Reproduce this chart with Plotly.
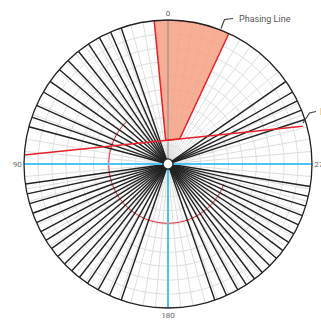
import math
import plotly.graph_objects as go

# Bearings (degrees, counter-clockwise from north) of the observed rays
ray_angles = [
    19, 23.5, 28.5, 33.5, 38.5, 44, 49, 55, 60, 66, 71, 75,
    98, 102, 106, 110, 114, 118, 122, 126, 130, 134, 138, 142, 146, 151, 156, 161,
    199, 204, 209, 213, 217, 221, 225, 229, 233, 237, 241, 245, 249, 253, 257, 261,
    288, 292, 296, 300, 305,
]

# Phasing sector bounds (degrees)
sector_left = 5.5
sector_right = 335.0

# Red straight line end points (theta, r)
line_theta = [86.4, 285.7]
line_r = [1.0, 0.97]

# Red reference arc
arc_radius = 0.39
arc_start, arc_end = 45, 250

tick_labels = {0: "0", 90: "90", 180: "180", 270: "270"}

HOLE = 0.035
W, H = 321, 322
ML, MR, MT, MB = 24, 9, 20, 14
PLOT = 288


def to_xy(theta, r):
    # screen-space position (unit radius) including the centre hole
    rho = HOLE + (1 - HOLE) * r
    t = math.radians(theta)
    return -rho * math.sin(t), rho * math.cos(t)


def ray_hit(theta):
    # radial value where the ray at theta meets the straight red line
    (x1, y1), (x2, y2) = to_xy(line_theta[0], line_r[0]), to_xy(line_theta[1], line_r[1])
    dx, dy = -math.sin(math.radians(theta)), math.cos(math.radians(theta))
    ex, ey = x2 - x1, y2 - y1
    det = dx * (-ey) - dy * (-ex)
    rho = (x1 * (-ey) - y1 * (-ex)) / det
    return (rho - HOLE) / (1 - HOLE)


fig = go.Figure()

# phasing sector
sec_theta, sec_r = [], []
span = (sector_left - sector_right) % 360
steps = 40
for i in range(steps + 1):
    sec_theta.append(sector_left - span * i / steps)
    sec_r.append(1.0)
sec_theta += [sector_right, sector_left, sector_left]
sec_r += [ray_hit(sector_right), ray_hit(sector_left), 1.0]
fig.add_trace(go.Scatterpolar(
    theta=sec_theta, r=sec_r, mode="lines", fill="toself",
    fillcolor="rgba(245,160,130,0.85)", line=dict(color="#e8202a", width=1.5),
    hoverinfo="skip"))

# red reference arc
arc_t = [arc_start + (arc_end - arc_start) * i / 80 for i in range(81)]
fig.add_trace(go.Scatterpolar(
    theta=arc_t, r=[arc_radius] * len(arc_t), mode="lines",
    line=dict(color="#e8202a", width=1), hoverinfo="skip"))

# north reference line
fig.add_trace(go.Scatterpolar(
    theta=[0, 0], r=[0, 1], mode="lines",
    line=dict(color="#8a8a8a", width=1), hoverinfo="skip"))

# observed rays
rt, rr = [], []
for a in ray_angles:
    rt += [a, a, None]
    rr += [0, 1, None]
fig.add_trace(go.Scatterpolar(
    theta=rt, r=rr, mode="lines", connectgaps=False,
    line=dict(color="#222222", width=1.4), hoverinfo="skip"))

# cyan axes
fig.add_trace(go.Scatterpolar(
    theta=[90, 90, None, 270, 270, None, 180, 180],
    r=[1, 0, None, 0, 1, None, 0, 1], mode="lines", connectgaps=False,
    line=dict(color="#4cc3f5", width=2), hoverinfo="skip"))

# red straight line
fig.add_trace(go.Scatterpolar(
    theta=line_theta, r=line_r, mode="lines",
    line=dict(color="#e8202a", width=1.5), hoverinfo="skip"))


def px(x):
    return (x - ML) / PLOT


def py(y):
    return (H - MB - y) / PLOT


shapes = [
    dict(type="path", xref="paper", yref="paper",
         path=f"M {px(221)} {py(28.5)} L {px(224.5)} {py(19.5)} L {px(233)} {py(18.5)}",
         line=dict(color="#444444", width=1.2)),
    dict(type="path", xref="paper", yref="paper",
         path=f"M {px(303)} {py(123)} L {px(309.5)} {py(113)} L {px(316)} {py(111.5)}",
         line=dict(color="#444444", width=1.2)),
]

annotations = [
    dict(text="Phasing Line", x=px(237), y=py(18.5), xref="paper", yref="paper",
         xanchor="left", yanchor="middle", showarrow=False,
         font=dict(family="Roboto", size=9, color="#555555")),
    dict(text="Impact Line", x=px(317.5), y=py(111.5), xref="paper", yref="paper",
         xanchor="left", yanchor="middle", showarrow=False,
         font=dict(family="Roboto", size=9, color="#555555")),
]

tickvals = list(range(0, 360, 5))
ticktext = [tick_labels.get(v, "") for v in tickvals]

fig.update_layout(
    width=W, height=H,
    margin=dict(l=ML, r=MR, t=MT, b=MB),
    paper_bgcolor="white",
    showlegend=False,
    font=dict(family="Roboto", size=8, color="#666666"),
    shapes=shapes,
    annotations=annotations,
    polar=dict(
        bgcolor="white",
        hole=HOLE,
        domain=dict(x=[0, 1], y=[0, 1]),
        angularaxis=dict(
            rotation=90, direction="counterclockwise",
            tickmode="array", tickvals=tickvals, ticktext=ticktext,
            ticks="", showline=True, linecolor="#222222", linewidth=1.3,
            gridcolor="#dedede", gridwidth=1,
            tickfont=dict(family="Roboto", size=8, color="#666666"),
        ),
        radialaxis=dict(
            range=[0, 1], dtick=0.1, showticklabels=False, ticks="",
            showline=False, gridcolor="#dedede", gridwidth=1,
        ),
    ),
)

fig.write_html("out.html")
